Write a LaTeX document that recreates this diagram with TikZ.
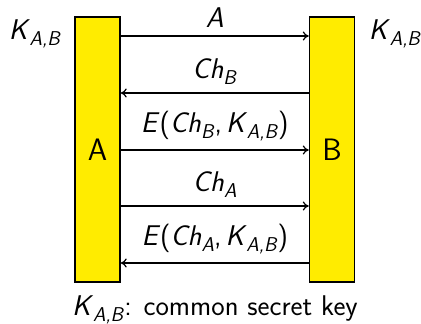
\documentclass[tikz,border=0pt]{standalone}
\usetikzlibrary{arrows.meta}
\definecolor{partyfill}{RGB}{255,236,0}
\newcommand{\slm}[1]{\textsl{#1}}
\newcommand{\subsl}[1]{\raisebox{-0.22em}{\fontsize{20}{21}\selectfont\slm{#1}}}
\newcommand{\kab}{\slm{K}\kern-0.5pt\subsl{A,B}}
\begin{document}
\begin{tikzpicture}[x=1pt,y=-1pt,
  party/.style={draw=black,line width=1.4pt,fill=partyfill,minimum width=45pt,
    minimum height=265pt,inner sep=0pt,font=\fontsize{31}{34}\selectfont\sffamily},
  msg/.style={line width=1.2pt,-{To[length=6pt,width=9pt]}},
  lbl/.style={font=\fontsize{28.5}{32}\selectfont\sffamily,inner sep=0pt,anchor=base}]
\useasboundingbox (0,0) rectangle (421,324);
\node[party] (A) at (97.5,149.5) {A};
\node[party] (B) at (332,149.5) {B};
\coordinate (m1) at (0,36);
\coordinate (m2) at (0,93);
\coordinate (m3) at (0,150);
\coordinate (m4) at (0,206);
\coordinate (m5) at (0,263);
\draw[msg] (A.east |- m1) -- node[lbl,above=8pt] {\slm{A}} (B.west |- m1);
\draw[msg] (B.west |- m2) -- node[lbl,above=8pt] {\slm{Ch}\subsl{B}} (A.east |- m2);
\draw[msg] (A.east |- m3) -- node[lbl,above=8pt] {\slm{E}(\slm{Ch}\subsl{B},\kern4pt\kab)} (B.west |- m3);
\draw[msg] (A.east |- m4) -- node[lbl,above=8pt] {\slm{Ch}\subsl{A}} (B.west |- m4);
\draw[msg] (B.west |- m5) -- node[lbl,above=8pt] {\slm{E}(\slm{Ch}\subsl{A},\kern4pt\kab)} (A.east |- m5);
\node[lbl] (kl) at (35,39) {\kab};
\node[lbl] (kr) at (395,39) {\kab};
\node[lbl] (note) at (215,315.5) {\kab: common secret key};
\end{tikzpicture}
\end{document}
